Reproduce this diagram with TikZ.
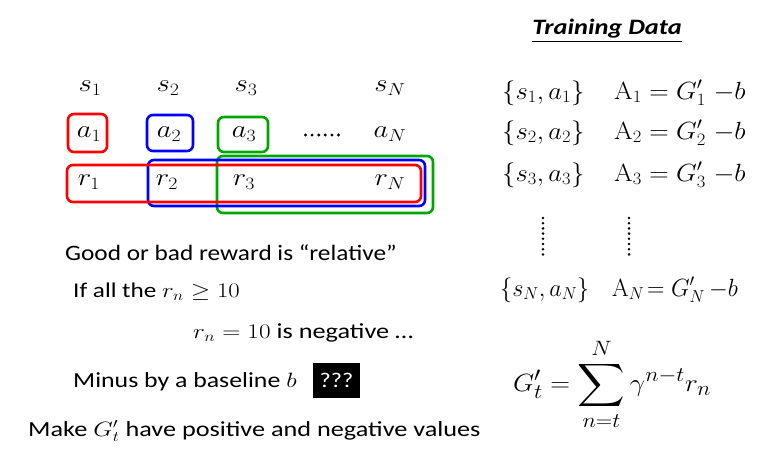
\documentclass[tikz,border=0pt]{standalone}
\usepackage[no-math]{fontspec}
\setmainfont{Carlito}
\usepackage{amsmath,amssymb,graphicx}
\newcommand\hsc[2]{\scalebox{#1}[1]{#2}}
\begin{document}
\begin{tikzpicture}[x=1pt,y=-1pt,
  mth/.style={inner sep=0pt, font=\fontsize{24}{26}\selectfont},
  rbox/.style={draw, line width=2.6pt, rounded corners=6pt},
  txt/.style={inner sep=0pt, anchor=base west}]
\useasboundingbox[fill=white] (0,0) rectangle (762,451);
% grid
\node[mth] (s1) at (90,88) {\hsc{1.15}{$s_1$}};
\node[mth] (s2) at (168,88) {\hsc{1.15}{$s_2$}};
\node[mth] (s3) at (246,88) {\hsc{1.15}{$s_3$}};
\node[mth] (sN) at (390,88) {\hsc{1.15}{$s_N$}};
\node[mth] (a1) at (89,134) {\hsc{1.15}{$a_1$}};
\node[mth] (a2) at (169,134) {\hsc{1.15}{$a_2$}};
\node[mth] (a3) at (244,134) {\hsc{1.15}{$a_3$}};
\node[mth] (aN) at (390,134) {\hsc{1.15}{$a_N$}};
\coordinate (dots) at (322,135);
\foreach \k in {-2.5,-1.5,...,2.5} \fill ([xshift=\k*6.6pt]dots) circle (1.6pt);
\node[mth] (r1) at (89,182) {\hsc{1.15}{$r_1$}};
\node[mth] (r2) at (167,182) {\hsc{1.15}{$r_2$}};
\node[mth] (r3) at (244,182) {\hsc{1.15}{$r_3$}};
\node[mth] (rN) at (390,182) {\hsc{1.15}{$r_N$}};
\draw[rbox, red] (68,114) rectangle (107,152);
\draw[rbox, blue] (147,115) rectangle (193,151);
\draw[rbox, green!65!black] (218,117) rectangle (268,152);
\draw[rbox, green!65!black] (217,156) rectangle (433,213);
\draw[rbox, blue] (148,160) rectangle (425,206);
\draw[rbox, red] (67,165) rectangle (421,202);
% left texts
\node[txt, font=\fontsize{22}{24}\selectfont] (good) at (65,260) {\hsc{1.15}{Good or bad reward is ``relative''}};
\node[txt, font=\fontsize{21}{24}\selectfont] (ifall) at (73,297) {\hsc{1.2}{If all the $r_n \geq 10$}};
\node[txt, font=\fontsize{21.5}{24}\selectfont] (neg) at (193,338) {\hsc{1.22}{$r_n = 10$ is negative \dots}};
\node[txt, font=\fontsize{21.5}{24}\selectfont] (minus) at (73,387) {\hsc{1.2}{Minus by a baseline $b$}};
\node[fill=black, text=white, minimum width=47pt, minimum height=35pt, inner sep=0pt, font=\fontsize{21}{24}\selectfont] (q) at (336.5,380) {\hsc{1.15}{???}};
\node[txt, font=\fontsize{21.5}{24}\selectfont] (make) at (28,436) {\hsc{1.22}{Make $G_t'$ have positive and negative values}};
% right
\node[inner sep=0pt, font=\fontsize{22}{24}\bfseries\itshape] (title) at (607,31) {\hsc{1.2}{\underline{Training Data}}};
\foreach \i/\y in {1/99,2/139,3/181} {
  \node[mth, anchor=base west] (sa\i) at (502,\y) {\hsc{1.07}{$\{s_\i,a_\i\}$}};
  \node[mth, anchor=base west] (A\i) at (614,\y) {\hsc{1.08}{$\mathrm{A}_\i = G_\i'\;{-b}$}};
}
\node[mth, anchor=base west] (saN) at (500,296) {\hsc{0.97}{$\{s_N,a_N\}$}};
\node[mth, anchor=base west] (AN) at (612,296) {\hsc{0.97}{$\mathrm{A}_N\! = G_N'\,{-b}$}};
\coordinate (v1) at (543,218);
\coordinate (v2) at (629,218);
\foreach \k in {0,...,7} {
  \fill ([yshift=-\k*5.2pt]v1) circle (1.4pt);
  \fill ([yshift=-\k*5.2pt]v2) circle (1.4pt);
}
\node[inner sep=0pt, font=\fontsize{30}{32}\selectfont] (sum) at (612,384) {\hsc{1.1}{$\displaystyle G_t' = \sum_{n=t}^{N} \gamma^{n-t} r_n$}};
\end{tikzpicture}
\end{document}
